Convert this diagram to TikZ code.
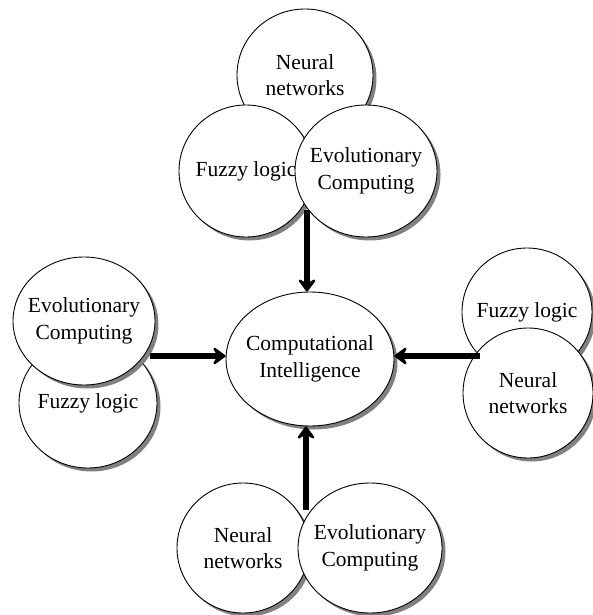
\documentclass[tikz,border=0pt]{standalone}
\usepackage{fontspec}
\setmainfont{Liberation Serif}
\usetikzlibrary{shapes.geometric,shadows,arrows.meta}

\begin{document}
\begin{tikzpicture}[x=1pt,y=-1pt,
	bubble/.style={ellipse,draw,line width=0.9pt,fill=white,inner sep=-30pt,align=center,
		font=\fontsize{21.5}{26.5}\selectfont,
		drop shadow={shadow xshift=3.5pt,shadow yshift=-3.5pt,fill=black!50,opacity=1}},
	arr/.style={-{Stealth[length=15pt,width=22pt,inset=6pt,round]},line width=5.2pt}]
	\useasboundingbox (0,0) rectangle (592,615);
	
	% top group
	\node[bubble,minimum width=136pt,minimum height=132pt] (topnn) at (305,75) {Neural\\networks};
	\node[bubble,minimum width=134pt,minimum height=132pt] (topfl) at (246,171) {Fuzzy logic};
	\node[bubble,minimum width=142pt,minimum height=132pt] (topec) at (366,171) {Evolutionary\\Computing};
	
	% left group
	\node[bubble,minimum width=138pt,minimum height=130pt] (leftfl) at (88,403) {Fuzzy logic};
	\node[bubble,minimum width=142pt,minimum height=128pt] (leftec) at (84,321) {Evolutionary\\Computing};
	
	% right group
	\node[bubble,minimum width=130pt,minimum height=128pt] (rightfl) at (527,312) {Fuzzy logic};
	\node[bubble,minimum width=130pt,minimum height=130pt] (rightnn) at (528,393) {Neural\\networks};
	
	% bottom group
	\node[bubble,minimum width=132pt,minimum height=130pt] (botnn) at (243,548) {Neural\\networks};
	\node[bubble,minimum width=144pt,minimum height=130pt] (botec) at (370,548) {Evolutionary\\Computing};
	
	% centre
	\node[bubble,minimum width=168pt,minimum height=134pt] (ci) at (310,359) {Computational\\Intelligence};
	
	\coordinate (topjoin) at (307,210);
	\coordinate (leftjoin) at (150,356);
	\coordinate (rightjoin) at (480,356);
	\coordinate (botjoin) at (306,510);
	
	\draw[arr] (topjoin) -- (topjoin |- ci.north);
	\draw[arr] (leftjoin) -- (leftjoin -| ci.west);
	\draw[arr] (rightjoin) -- (rightjoin -| ci.east);
	\draw[arr] (botjoin) -- (botjoin |- ci.south);
\end{tikzpicture}
\end{document}
